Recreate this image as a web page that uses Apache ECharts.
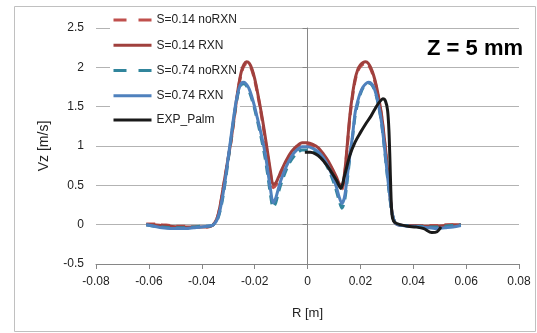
<!DOCTYPE html>
<html>
<head>
<meta charset="utf-8">
<script src="https://cdn.jsdelivr.net/npm/echarts@6/dist/echarts.min.js"></script>
<style>html,body{margin:0;padding:0;background:#fff;}#c{width:537px;height:333px;}</style>
</head>
<body>
<div id="c"></div>
<script>
// ---- data ----
const rSim = [-0.061,-0.058,-0.055,-0.052,-0.049,-0.046,-0.043,-0.040,-0.038,-0.036,-0.035,-0.034,-0.033,-0.032,-0.031,-0.030,-0.029,-0.028,-0.027,-0.026,-0.025,-0.024,-0.023,-0.022,-0.021,-0.020,-0.019,-0.018,-0.017,-0.016,-0.015,-0.014,-0.013,-0.012,-0.011,-0.010,-0.008,-0.006,-0.004,-0.002,0,0.002,0.004,0.006,0.008,0.010,0.011,0.012,0.013,0.014,0.015,0.016,0.017,0.018,0.019,0.020,0.021,0.022,0.023,0.024,0.025,0.026,0.027,0.028,0.029,0.030,0.031,0.032,0.033,0.034,0.036,0.038,0.040,0.043,0.046,0.049,0.052,0.055,0.058];
const vz014noRxn = [0.01,0.01,0.0,-0.01,-0.02,-0.02,-0.03,-0.03,-0.03,-0.01,0.03,0.1,0.24,0.44,0.64,0.84,1.04,1.28,1.53,1.76,1.93,2.02,2.05,2.03,1.96,1.84,1.68,1.5,1.3,1.08,0.86,0.64,0.47,0.5,0.58,0.66,0.8,0.91,0.98,1.02,1.02,1.0,0.96,0.88,0.78,0.65,0.57,0.49,0.45,0.62,0.97,1.35,1.62,1.83,1.95,2.01,2.04,2.05,2.03,1.97,1.88,1.75,1.58,1.38,1.1,0.78,0.43,0.14,0.03,0.0,-0.01,-0.01,-0.01,-0.01,-0.01,-0.01,0.0,0.0,0.0];
const vz014Rxn = [0.0,0.0,-0.01,-0.02,-0.03,-0.03,-0.03,-0.03,-0.03,-0.01,0.03,0.1,0.25,0.45,0.65,0.85,1.05,1.3,1.55,1.78,1.95,2.04,2.07,2.05,1.98,1.86,1.7,1.52,1.33,1.12,0.9,0.68,0.51,0.53,0.6,0.68,0.82,0.93,1.0,1.04,1.04,1.02,0.98,0.9,0.8,0.67,0.6,0.52,0.49,0.65,1.0,1.38,1.65,1.85,1.97,2.03,2.06,2.07,2.05,1.99,1.9,1.77,1.6,1.4,1.12,0.8,0.45,0.15,0.03,0.0,-0.01,-0.01,-0.01,-0.02,-0.02,-0.02,-0.01,0.0,0.0];
const vz074noRxn = [0.0,-0.02,-0.03,-0.04,-0.04,-0.04,-0.03,-0.02,-0.02,-0.01,0.02,0.07,0.18,0.35,0.57,0.82,1.07,1.32,1.54,1.7,1.78,1.79,1.76,1.69,1.59,1.47,1.33,1.18,1.02,0.84,0.62,0.38,0.22,0.28,0.41,0.52,0.7,0.83,0.91,0.95,0.95,0.94,0.9,0.82,0.7,0.53,0.42,0.3,0.21,0.3,0.55,0.85,1.1,1.38,1.54,1.66,1.74,1.78,1.8,1.79,1.74,1.64,1.49,1.29,1.0,0.68,0.38,0.14,0.03,0.0,-0.01,-0.01,-0.02,-0.02,-0.03,-0.03,-0.02,-0.01,0.0];
const vz074Rxn = [0.0,-0.02,-0.04,-0.05,-0.05,-0.05,-0.04,-0.03,-0.02,-0.01,0.02,0.08,0.2,0.38,0.6,0.85,1.1,1.35,1.57,1.72,1.8,1.81,1.78,1.72,1.62,1.5,1.36,1.22,1.07,0.9,0.68,0.45,0.28,0.34,0.46,0.57,0.74,0.87,0.95,0.99,0.99,0.97,0.93,0.85,0.73,0.57,0.47,0.35,0.27,0.35,0.6,0.88,1.12,1.42,1.57,1.68,1.75,1.79,1.81,1.8,1.75,1.65,1.5,1.3,1.02,0.7,0.4,0.15,0.03,0.0,-0.01,-0.02,-0.02,-0.03,-0.04,-0.05,-0.04,-0.03,-0.01];
const rExp = [-0.001,0.001,0.003,0.005,0.007,0.009,0.011,0.0126,0.014,0.016,0.018,0.020,0.022,0.024,0.026,0.0275,0.0285,0.0295,0.0303,0.0308,0.0312,0.0315,0.0318,0.0322,0.033,0.035,0.038,0.041,0.044,0.047,0.049,0.0505];
const vzExp = [0.92,0.92,0.90,0.85,0.77,0.67,0.56,0.46,0.62,0.88,1.05,1.17,1.28,1.38,1.5,1.57,1.6,1.57,1.45,1.2,0.8,0.45,0.2,0.08,0.03,0.0,-0.02,-0.03,-0.05,-0.10,-0.09,-0.03];
const xTicks = {min: -0.08, max: 0.08, interval: 0.02};
const yTicks = {min: -0.5, max: 2.5, interval: 0.5};
const names = ['S=0.14 noRXN','S=0.14 RXN','S=0.74 noRXN','S=0.74 RXN','EXP_Palm'];
const dashedNames = ['S=0.14 noRXN','S=0.74 noRXN'];

const pairs = (xs, ys) => xs.map((x, i) => [x, ys[i]]);
const font = 'Liberation Sans, Arial, sans-serif';
const dashIcon = 'path://M0,0L0,0ZM38,14L38,14ZM0,5.5h13v3h-13zM25,5.5h13v3h-13z';

const chart = echarts.init(document.getElementById('c'), null, {renderer: 'canvas'});
const mk = (name, xs, ys, color, dashed) => ({
  name, type: 'line', data: pairs(xs, ys), symbol: 'none', smooth: 0.3,
  lineStyle: {color, width: 3, type: dashed ? [9, 6] : 'solid'},
  itemStyle: {color}, z: 3
});
chart.setOption({
  animation: false,
  backgroundColor: '#fff',
  grid: {left: 96, right: 18, top: 28, bottom: 69},
  title: {text: 'Z = 5 mm', right: 14, top: 38, padding: 0,
    textStyle: {fontFamily: font, fontSize: 22, fontWeight: 'bold', color: '#000'}},
  legend: {
    orient: 'vertical', left: 110, top: 11, padding: [2, 3, 2, 2],
    itemWidth: 38, itemHeight: 14, itemGap: 12.25,
    backgroundColor: '#fff', z: 1,
    itemStyle: {opacity: 0},
    lineStyle: {width: 3},
    textStyle: {fontFamily: font, fontSize: 12, color: '#222'},
    data: names.map(n => dashedNames.includes(n)
      ? {name: n, icon: dashIcon, itemStyle: {opacity: 1}}
      : {name: n})
  },
  xAxis: {
    type: 'value', min: xTicks.min, max: xTicks.max, interval: xTicks.interval,
    name: 'R [m]', nameLocation: 'middle', nameGap: 43,
    nameTextStyle: {fontFamily: font, fontSize: 13, color: '#222'},
    axisLine: {show: true, onZero: false, lineStyle: {color: '#868686', width: 1}},
    axisTick: {show: true, length: 5, lineStyle: {color: '#868686'}},
    axisLabel: {fontFamily: font, fontSize: 12, color: '#222', margin: 12},
    splitLine: {show: false}
  },
  yAxis: {
    type: 'value', min: yTicks.min, max: yTicks.max, interval: yTicks.interval,
    name: 'Vz [m/s]', nameLocation: 'middle', nameGap: 45, nameRotate: 90,
    nameTextStyle: {fontFamily: font, fontSize: 14, color: '#222'},
    axisLine: {show: true, lineStyle: {color: '#868686', width: 1}},
    axisTick: {show: true, length: 5, lineStyle: {color: '#868686'}},
    axisLabel: {fontFamily: font, fontSize: 12, color: '#222', margin: 12},
    splitLine: {show: true, lineStyle: {color: '#b3b3b3', width: 1}}
  },
  graphic: [{type: 'rect', shape: {x: 14.5, y: 6.5, width: 521, height: 325},
    style: {fill: 'none', stroke: '#c0c0c0', lineWidth: 1}, silent: true, z: -1}],
  series: [
    mk(names[0], rSim, vz014noRxn, '#C0504D', true),
    mk(names[1], rSim, vz014Rxn, '#A0403D', false),
    mk(names[2], rSim, vz074noRxn, '#31859C', true),
    mk(names[3], rSim, vz074Rxn, '#4F81BD', false),
    mk(names[4], rExp, vzExp, '#1a1a1a', false)
  ]
});
</script>
</body>
</html>
